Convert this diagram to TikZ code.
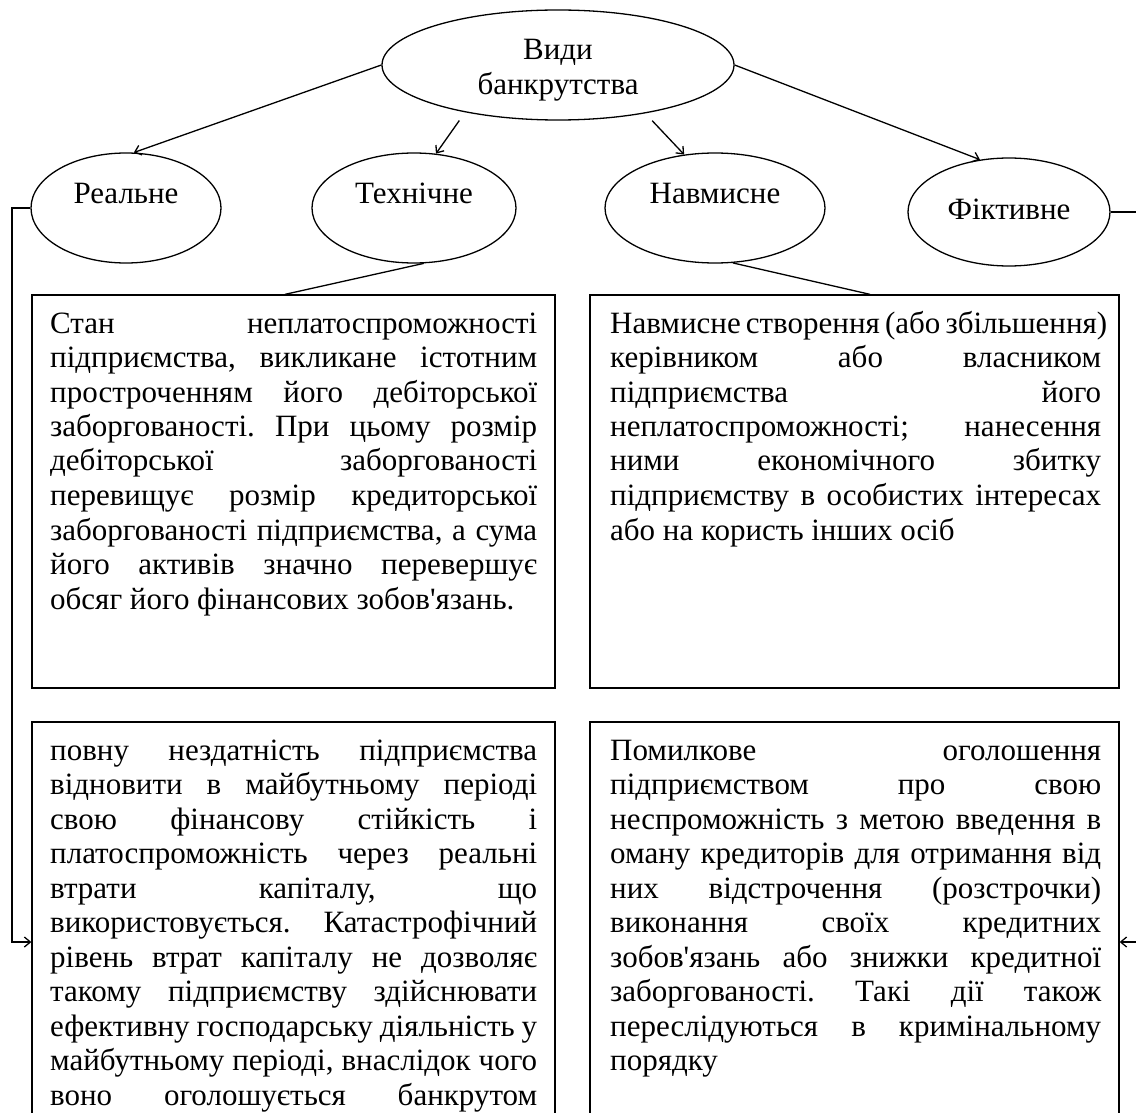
\documentclass[tikz,border=0pt]{standalone}
\usepackage{fontspec}
\setmainfont{Liberation Serif}
\newfontfamily\plainserif{Liberation Serif}
\usetikzlibrary{shapes.geometric,arrows.meta}
\newcommand\JLine[2][487pt]{\makebox[#1][s]{#2}}
\newcommand\apo{{\plainserif'}}
\frenchspacing
\tikzset{
  bigfont/.style={font=\fontsize{31}{34.5}\selectfont\frenchspacing},
  oval/.style={ellipse, draw, line width=1.3pt, inner sep=0pt, bigfont},
  lbl/.style={inner sep=0pt, bigfont, text height=21pt, text depth=7pt},
  box/.style={draw, rectangle, line width=1.3pt, inner sep=0pt},
  txt/.style={inner sep=0pt, anchor=base west, bigfont},
  arr/.style={line width=1.3pt, -{Straight Barb[length=6pt,width=10pt]}},
  con/.style={line width=1.3pt},
}
\begin{document}
\begin{tikzpicture}[x=1pt,y=-1pt]
\useasboundingbox (0,0) rectangle (1136,1113);
\clip (0,0) rectangle (1136,1113);

% ellipses
\node[oval, minimum width=352pt, minimum height=110pt] (top) at (558,65) {};
\node[oval, minimum width=190pt, minimum height=110pt] (real) at (126,208) {};
\node[oval, minimum width=204pt, minimum height=110pt] (tech) at (414,208) {};
\node[oval, minimum width=220pt, minimum height=110pt] (nav) at (715,208) {};
\node[oval, minimum width=202pt, minimum height=108pt] (fict) at (1009,212) {};
\node[inner sep=0pt, bigfont, align=center] (topL) at ([yshift=-5pt]top.center) {Види\\банкрутства};
\node[lbl] (realL) at ([yshift=11pt]real.center) {Реальне};
\node[lbl] (techL) at ([yshift=11pt]tech.center) {Технічне};
\node[lbl] (navL) at ([yshift=11pt]nav.center) {Навмисне};
\node[lbl] (fictL) at ([yshift=0pt]fict.center) {Фіктивне};

% boxes
\node[box, minimum width=523pt, minimum height=393pt] (tl) at (293.5,491.5) {};
\node[box, minimum width=529pt, minimum height=393pt] (tr) at (854.5,491.5) {};
\node[box, minimum width=523pt, minimum height=430pt] (bl) at (293.5,937) {};
\node[box, minimum width=529pt, minimum height=430pt] (br) at (854.5,937) {};

% texts
\node[txt] (tlT) at (50,333) {\parbox[t]{487pt}{%
\JLine{Стан неплатоспроможності}\\
\JLine{підприємства, викликане істотним}\\
\JLine{простроченням його дебіторської}\\
\JLine{заборгованості. При цьому розмір}\\
\JLine{дебіторської заборгованості}\\
\JLine{перевищує розмір кредиторської}\\
\JLine{заборгованості підприємства, а сума}\\
\JLine{його активів значно перевершує}\\
обсяг його фінансових зобов\apo язань.}};

\node[txt] (trT) at (610,333) {\parbox[t]{491pt}{%
\JLine[491pt]{Навмисне створення (або збільшення)}\\
\JLine[491pt]{керівником або власником}\\
\JLine[491pt]{підприємства його}\\
\JLine[491pt]{неплатоспроможності; нанесення}\\
\JLine[491pt]{ними економічного збитку}\\
\JLine[491pt]{підприємству в особистих інтересах}\\
або на користь інших осіб}};

\node[txt] (blT) at (50,760) {\parbox[t]{487pt}{%
\JLine{повну нездатність підприємства}\\
\JLine{відновити в майбутньому періоді}\\
\JLine{свою фінансову стійкість і}\\
\JLine{платоспроможність через реальні}\\
\JLine{втрати капіталу, що}\\
\JLine{використовується. Катастрофічний}\\
\JLine{рівень втрат капіталу не дозволяє}\\
\JLine{такому підприємству здійснювати}\\
\JLine{ефективну господарську діяльність у}\\
\JLine{майбутньому періоді, внаслідок чого}\\
\JLine{воно оголошується банкрутом}}};

\node[txt] (brT) at (610,760) {\parbox[t]{491pt}{%
\JLine[491pt]{Помилкове оголошення}\\
\JLine[491pt]{підприємством про свою}\\
\JLine[491pt]{неспроможність з метою введення в}\\
\JLine[491pt]{оману кредиторів для отримання від}\\
\JLine[491pt]{них відстрочення (розстрочки)}\\
\JLine[491pt]{виконання своїх кредитних}\\
\JLine[491pt]{зобов\apo язань або знижки кредитної}\\
\JLine[491pt]{заборгованості. Такі дії також}\\
\JLine[491pt]{переслідуються в кримінальному}\\
порядку}};

% arrows from top
\draw[arr] (top.west) -- (real.82);
\draw[arr, shorten <=10pt] (top.207) -- (tech.68);
\draw[arr, shorten <=10pt] (top.331) -- (nav.120);
\draw[arr] (top.east) -- (fict.119);

% lines to boxes
\draw[con] (tech.280) -- ([xshift=-8.5pt]tl.north);
\draw[con] (nav.288) -- ([xshift=15.5pt]tr.north);

% side connectors
\coordinate (lc) at (12,942);
\coordinate (rc) at (1142,942);
\draw[arr] (real.west) -| (lc) -- (lc -| bl.west);
\draw[arr] (fict.east) -| (rc) -- (rc -| br.east);
\end{tikzpicture}
\end{document}
